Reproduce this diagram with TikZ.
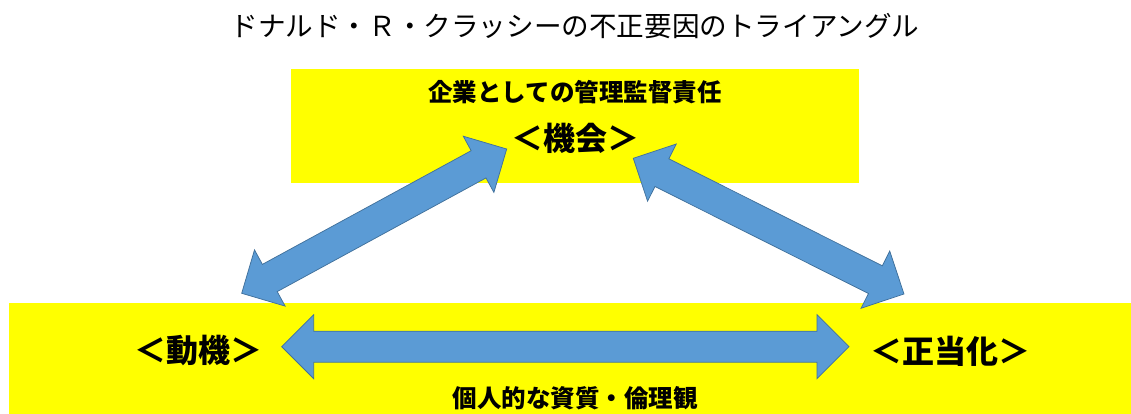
\documentclass[tikz,border=0pt]{standalone}
\usepackage{fontspec}
\newfontfamily\jp{Noto Sans CJK JP}
\usetikzlibrary{calc}
\definecolor{boxyellow}{HTML}{FFFF00}
\definecolor{arrowblue}{HTML}{5B9BD5}
\definecolor{arrowline}{HTML}{41719C}
\tikzset{
  panel/.style={fill=boxyellow, draw=none},
  blockarrow/.style={fill=arrowblue, draw=arrowline, line width=0.75pt, line join=miter},
  titletext/.style={inner sep=0pt, font=\jp\fontsize{27.6pt}{27.6pt}\selectfont},
  subtext/.style={inner sep=0pt, font=\jp\bfseries\fontsize{24.5pt}{24.5pt}\selectfont},
  keytext/.style={inner sep=0pt, font=\jp\bfseries\fontsize{32pt}{32pt}\selectfont},
}
\newcommand{\dblblock}[2]{%
  \path[blockarrow] let \p1=($(#2)-(#1)$), \n1={atan2(\y1,\x1)}, \n2={veclen(\x1,\y1)} in
    [shift={(#1)}, rotate=\n1]
    (0,0) -- (32,32) -- (32,15.5) -- ({\n2-32},15.5) -- ({\n2-32},32) -- (\n2,0)
    -- ({\n2-32},-32) -- ({\n2-32},-15.5) -- (32,-15.5) -- (32,-32) -- cycle;}
\begin{document}
\begin{tikzpicture}[x=1pt,y=1pt]
\useasboundingbox (0,0) rectangle (1131,414);
% panels
\path[panel] (291,231) rectangle (859,345);
\path[panel] (9,0) rectangle (1131,111);
% arrow end points
\coordinate (motiveTip) at (241.7,120.7);
\coordinate (oppLeftTip) at (506.7,265);
\coordinate (oppRightTip) at (633.3,255.7);
\coordinate (ratTip) at (904,120);
\coordinate (motiveH) at (281.7,67.3);
\coordinate (ratH) at (849,67.3);
\dblblock{motiveTip}{oppLeftTip}
\dblblock{oppRightTip}{ratTip}
\dblblock{motiveH}{ratH}
% texts
\node[titletext] (title) at (575,388) {ドナルド・Ｒ・クラッシーの不正要因のトライアングル};
\node[subtext] (oppsub) at (575,322) {企業としての管理監督責任};
\node[keytext] (opp) at (575,276) {＜機会＞};
\node[keytext] (motive) at (198,64) {＜動機＞};
\node[keytext] (rat) at (950,63) {＜正当化＞};
\node[subtext] (indiv) at (575,16) {個人的な資質・倫理観};
\end{tikzpicture}
\end{document}
